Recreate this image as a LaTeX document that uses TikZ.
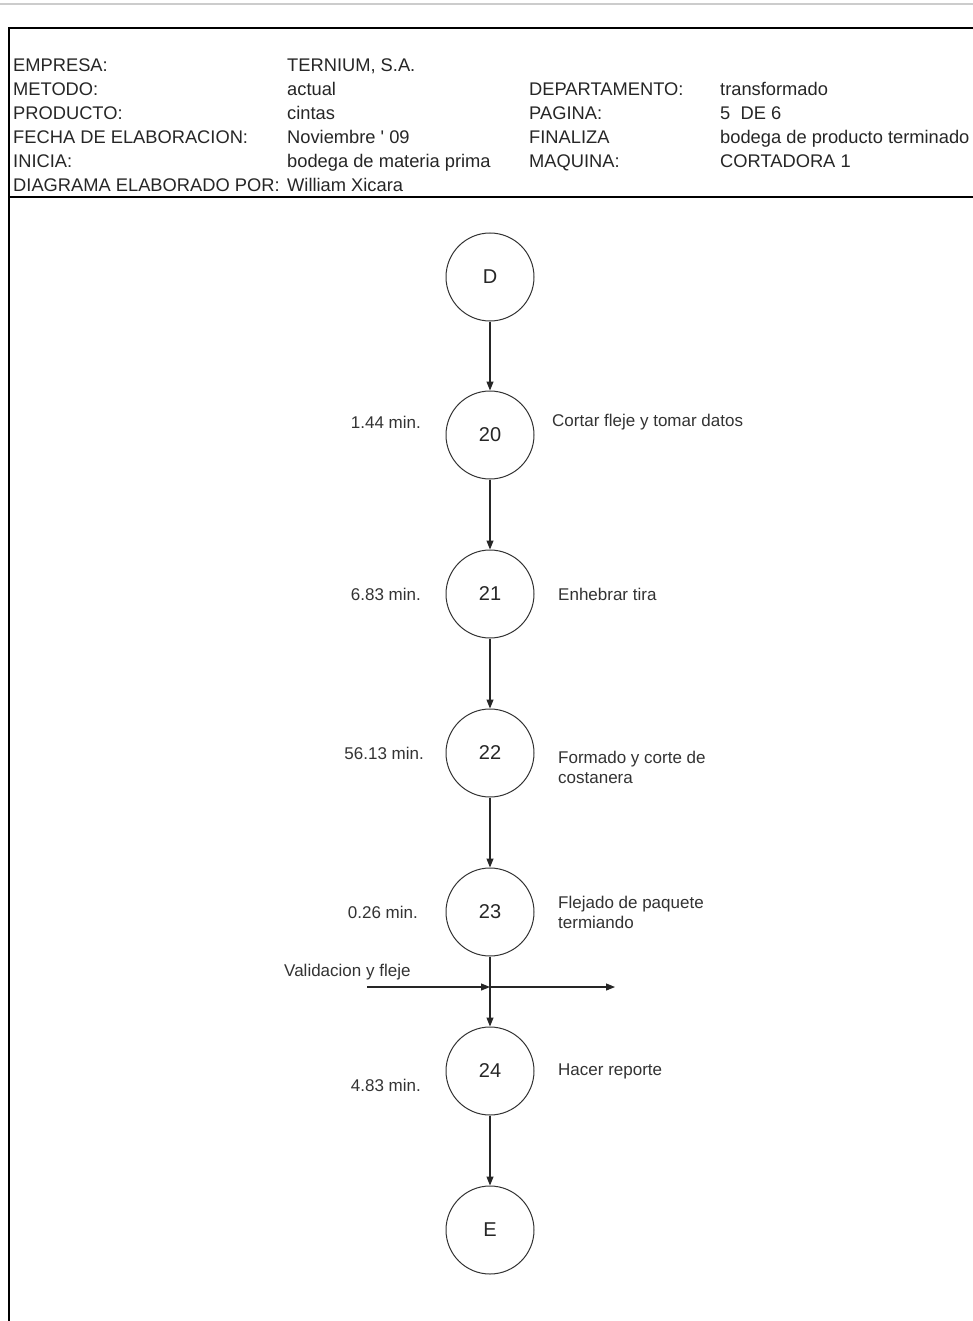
\documentclass[tikz,border=0pt]{standalone}
\usepackage{fontspec}
\newfontfamily\arialf{Liberation Sans}
\usetikzlibrary{arrows.meta}
\begin{document}
\begin{tikzpicture}[x=1pt,y=-1pt,
  hdr/.style={anchor=base west,inner sep=0pt,font=\arialf\fontsize{18.3}{18}\selectfont,text=black!85},
  lbl/.style={anchor=west,inner sep=0pt,font=\arialf\fontsize{17}{20}\selectfont,text=black!80,align=left},
  tm/.style={anchor=east,inner sep=0pt,font=\arialf\fontsize{17}{20}\selectfont,text=black!80},
  op/.style={circle,draw=black!80,line width=1pt,minimum size=88pt,inner sep=0pt,font=\arialf\fontsize{20}{20}\selectfont,text=black!85},
  flow/.style={draw=black!85,line width=1.1pt,-{Triangle[length=9pt,width=7pt]}}]
\useasboundingbox (0,0) rectangle (973,1321);
\fill[white] (0,0) rectangle (973,1321);
% page rule and frame
\draw[black!20,line width=1.5pt] (0,4) -- (973,4);
\draw[black,line width=2pt] (9,1321) -- (9,28) -- (973,28);
\draw[black,line width=2pt] (9,197) -- (973,197);
% header block
\node[hdr] (h1) at (13,72) {EMPRESA:};
\node[hdr] (h2) at (13,96) {METODO:};
\node[hdr] (h3) at (13,120) {PRODUCTO:};
\node[hdr] (h4) at (13,144) {FECHA DE ELABORACION:};
\node[hdr] (h5) at (13,168) {INICIA:};
\node[hdr] (h6) at (13,192) {DIAGRAMA ELABORADO POR:};
\node[hdr] (v1) at (287,72) {TERNIUM, S.A.};
\node[hdr] (v2) at (287,96) {actual};
\node[hdr] (v3) at (287,120) {cintas};
\node[hdr] (v4) at (287,144) {Noviembre ' 09};
\node[hdr] (v5) at (287,168) {bodega de materia prima};
\node[hdr] (v6) at (287,192) {William Xicara};
\node[hdr] (k2) at (529,96) {DEPARTAMENTO:};
\node[hdr] (k3) at (529,120) {PAGINA:};
\node[hdr] (k4) at (529,144) {FINALIZA};
\node[hdr] (k5) at (529,168) {MAQUINA:};
\node[hdr] (w2) at (720,96) {transformado};
\node[hdr] (w3) at (720,120) {5\ \ DE 6};
\node[hdr] (w4) at (720,144) {bodega de producto terminado};
\node[hdr] (w5) at (720,168) {CORTADORA 1};
% process circles
\node[op] (D) at (490,277) {D};
\node[op] (n20) at (490,435) {20};
\node[op] (n21) at (490,594) {21};
\node[op] (n22) at (490,753) {22};
\node[op] (n23) at (490,912) {23};
\node[op] (n24) at (490,1071) {24};
\node[op] (E) at (490,1230) {E};
% connectors
\draw[flow] (D) -- (n20);
\draw[flow] (n20) -- (n21);
\draw[flow] (n21) -- (n22);
\draw[flow] (n22) -- (n23);
\draw[flow] (n23) -- (n24);
\draw[flow] (n24) -- (E);
% side input
\coordinate (vin) at (367,987);
\coordinate (vx) at (490,987);
\coordinate (vout) at (615,987);
\draw[flow] (vin) -- (vx);
\draw[flow] (vx) -- (vout);
\node[lbl] (val) at (284,972) {Validacion y fleje};
% times
\node[tm] (t20) at (421,422) {1.44 min.};
\node[tm] (t21) at (421,594) {6.83 min.};
\node[tm] (t22) at (424,753) {56.13 min.};
\node[tm] (t23) at (418,912) {0.26 min.};
\node[tm] (t24) at (421,1085) {4.83 min.};
% descriptions
\node[lbl] (d20) at (552,422) {Cortar fleje y tomar datos};
\node[lbl] (d21) at (558,594) {Enhebrar tira};
\node[lbl] (d22) at (558,767) {Formado y corte de\\costanera};
\node[lbl] (d23) at (558,912) {Flejado de paquete\\termiando};
\node[lbl] (d24) at (558,1071) {Hacer reporte};
\end{tikzpicture}
\end{document}
